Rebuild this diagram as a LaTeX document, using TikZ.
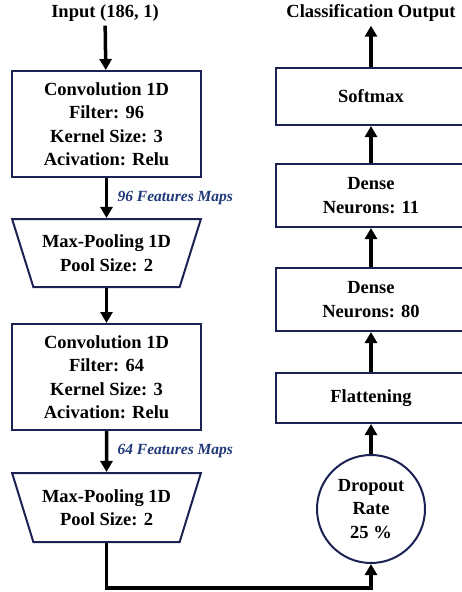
\documentclass[tikz,border=0pt]{standalone}
\usepackage{fontspec}
\setmainfont{Liberation Serif}
\usetikzlibrary{shapes.geometric,arrows.meta}

\begin{document}
\begin{tikzpicture}[x=1pt, y=-1pt,
    font=\fontsize{18.5}{23.5}\selectfont\bfseries,
    layer/.style={rectangle, draw=navy, line width=2pt, align=center, minimum width=189pt},
    pool/.style={trapezium, draw=navy, line width=2pt, align=center, trapezium stretches=true,
        trapezium angle=65.5, shape border rotate=180, minimum width=189pt, minimum height=68pt},
    flow/.style={line width=3.5pt, line join=miter, -{Triangle[width=12pt,length=11pt]}},
    maps/.style={midway, right, xshift=6pt, font=\fontsize{15.5}{18}\selectfont\bfseries\itshape, text=mapblue}]
            \definecolor{navy}{RGB}{28, 34, 84}
            \definecolor{mapblue}{RGB}{31, 56, 120}
            \useasboundingbox (0,0) rectangle (462,592);

            % Left column: convolution and pooling
            \node[inner sep=4pt] (Input) at (105, 13) {Input (186, 1)};
            \node[layer, minimum height=106pt] (Conv1) at (106.5, 124) {Convolution 1D\\Filter: 96\\Kernel Size: 3\\Acivation: Relu};
            \node[pool] (Pool1) at (106.5, 253) {Max-Pooling 1D\\Pool Size: 2};
            \node[layer, minimum height=106pt] (Conv2) at (106.5, 377) {Convolution 1D\\Filter: 64\\Kernel Size: 3\\Acivation: Relu};
            \node[pool, minimum height=69pt] (Pool2) at (106.5, 507.5) {Max-Pooling 1D\\Pool Size: 2};

            \draw[flow] (Input) -- (Conv1);
            \draw[flow] (Conv1) -- (Pool1) node[maps] {96 Features Maps};
            \draw[flow] (Pool1) -- (Conv2);
            \draw[flow] (Conv2) -- (Pool2) node[maps] {64 Features Maps};

            % Right column: dropout and dense layers
            \node[circle, draw=navy, line width=2pt, align=center, minimum size=108pt, inner sep=0pt] (Dropout) at (371, 509) {Dropout\\Rate\\ 25 \%};
            \node[layer, minimum width=190pt, minimum height=50pt] (Flatten) at (371, 398) {Flattening};
            \node[layer, minimum width=190pt, minimum height=63pt] (Dense80) at (371, 299.5) {Dense\\Neurons: 80};
            \node[layer, minimum width=190pt, minimum height=63pt] (Dense11) at (371, 195.5) {Dense\\Neurons: 11};
            \node[layer, minimum width=190pt, minimum height=57pt] (Softmax) at (371, 96.5) {Softmax};
            \node[inner sep=4pt] (Output) at (371, 13) {Classification Output};

            \foreach \a/\b in {Dropout/Flatten, Flatten/Dense80, Dense80/Dense11, Dense11/Softmax, Softmax/Output}
                \draw[flow] (\a) -- (\b);

            % Link from last pooling to dropout
            \coordinate (Low) at (371, 588);
            \draw[flow] (Pool2.south) |- (Low) -- (Dropout);
\end{tikzpicture}
\end{document}
